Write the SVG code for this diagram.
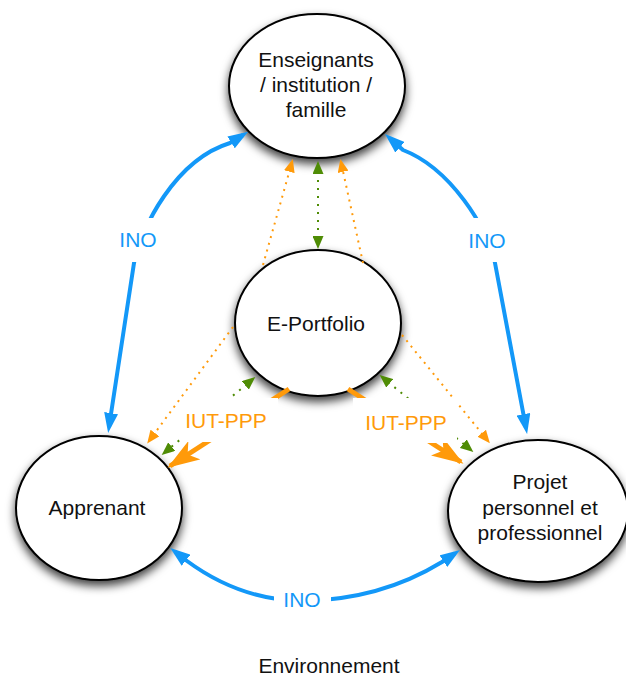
<svg xmlns="http://www.w3.org/2000/svg" width="626" height="677" viewBox="0 0 626 677">
<style>
  .node ellipse { fill: #ffffff; stroke: #000000; stroke-width: 2; filter: url(#shadow); }
  .nt { font-family: "Liberation Sans", Arial, sans-serif; font-size: 21px; fill: #111111; text-anchor: middle; }
  .blue { fill: none; stroke: #1398f8; stroke-width: 4; marker-start: url(#mb); marker-end: url(#mb); }
  .odot { fill: none; stroke: #ff9a0a; stroke-width: 2; stroke-dasharray: 2 5; marker-end: url(#mo); }
  .gdot { fill: none; stroke: #4f8c05; stroke-width: 2; stroke-dasharray: 2 6; marker-start: url(#mg); marker-end: url(#mg); }
  .othick { fill: none; stroke: #ff9a0a; stroke-width: 5; marker-end: url(#mob); }
  .lbg { fill: #ffffff; }
  .lino { font-family: "Liberation Sans", Arial, sans-serif; font-size: 21px; fill: #1398f8; text-anchor: middle; }
  .liut { font-family: "Liberation Sans", Arial, sans-serif; font-size: 21px; fill: #ff9a0a; text-anchor: middle; }
</style>
<defs>
  <filter id="shadow" x="-25%" y="-25%" width="150%" height="160%">
    <feDropShadow dx="0" dy="5" stdDeviation="5" flood-color="#000000" flood-opacity="0.75"/>
  </filter>
  <marker id="mb" markerUnits="userSpaceOnUse" markerWidth="20" markerHeight="14" refX="14" refY="7" orient="auto-start-reverse">
    <path d="M0,0 L20,7 L0,14 z" fill="#1398f8"/>
  </marker>
  <marker id="mo" markerUnits="userSpaceOnUse" markerWidth="13" markerHeight="11" refX="10" refY="5.5" orient="auto-start-reverse">
    <path d="M0,0 L13,5.5 L0,11 z" fill="#ff9a0a"/>
  </marker>
  <marker id="mg" markerUnits="userSpaceOnUse" markerWidth="13" markerHeight="11" refX="10" refY="5.5" orient="auto-start-reverse">
    <path d="M0,0 L13,5.5 L0,11 z" fill="#4f8c05"/>
  </marker>
  <marker id="mob" markerUnits="userSpaceOnUse" markerWidth="32" markerHeight="22" refX="29" refY="11" orient="auto">
    <path d="M0,0 L32,11 L0,22 L8,11 z" fill="#ff9a0a"/>
  </marker>
</defs>

<g id="node-enseignants" class="node">
  <ellipse cx="317" cy="86" rx="88" ry="72"/>
  <text class="nt" x="316" y="67">Enseignants</text>
  <text class="nt" x="316" y="92">/ institution /</text>
  <text class="nt" x="316" y="117">famille</text>
</g>
<g id="node-eportfolio" class="node">
  <ellipse cx="318" cy="323" rx="83" ry="73"/>
  <text class="nt" x="316" y="331">E-Portfolio</text>
</g>
<g id="node-apprenant" class="node">
  <ellipse cx="99" cy="508" rx="83" ry="72"/>
  <text class="nt" x="97" y="515">Apprenant</text>
</g>
<g id="node-projet" class="node">
  <ellipse cx="538" cy="511" rx="90" ry="71"/>
  <text class="nt" x="540" y="489">Projet</text>
  <text class="nt" x="540" y="515">personnel et</text>
  <text class="nt" x="540" y="540">professionnel</text>
</g>

<g id="connectors">
  <path class="blue" d="M109,427 L134,263 C141,228 175,160 230,143 L243,135"/>
  <path class="blue" d="M526,428 L495,263 C488,228 450,168 403,150 L389.5,138"/>
  <path class="blue" d="M175,551.6 L187,561 Q240,600 302,601 Q380,600 442,562 L455,553.3"/>

  <path class="odot" d="M263,265 L292,162"/>
  <path class="odot" d="M363,263 L341,162"/>
  <path class="gdot" d="M318,246 L318,164"/>
  <path class="odot" d="M233,327 L149,441"/>
  <path class="odot" d="M402,335 L488,441"/>
  <path class="gdot" d="M253,379 L164,453"/>
  <path class="gdot" d="M382,377 L471,450"/>

  <path class="othick" d="M289,389 L170,466"/>
  <path class="othick" d="M348,389 L461,462"/>

  <rect class="lbg" x="122" y="218" width="36" height="44"/>
  <text class="lino" x="138" y="247">INO</text>
  <rect class="lbg" x="468" y="218" width="38" height="44"/>
  <text class="lino" x="487" y="248">INO</text>
  <rect class="lbg" x="274" y="585" width="57" height="30"/>
  <text class="lino" x="302" y="607">INO</text>

  <rect class="lbg" x="182" y="398" width="96" height="44"/>
  <text class="liut" x="226" y="428">IUT-PPP</text>
  <rect class="lbg" x="353" y="398" width="104" height="45"/>
  <text class="liut" x="406" y="430">IUT-PPP</text>
</g>

<text id="environnement" class="nt" x="329" y="673">Environnement</text>
</svg>
